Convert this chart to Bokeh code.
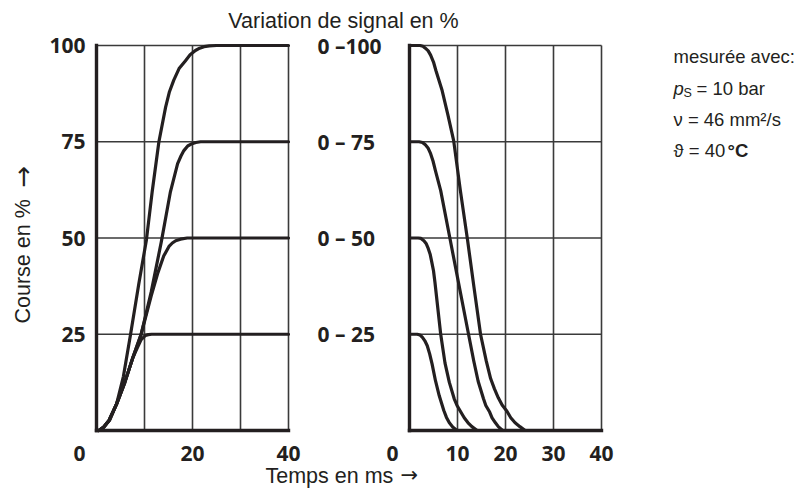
import math
from bokeh.plotting import figure
from bokeh.models import Range1d, Grid
from bokeh.core.properties import value
from bokeh.embed import file_html
from bokeh.resources import INLINE

# ---------------- data ----------------
Y_TICKS = [25, 50, 75, 100]
LEFT_X_TICKS = [0, 20, 40]
RIGHT_X_TICKS = [0, 10, 20, 30, 40]
GRID_T = [10, 20, 30, 40]
SIGNAL_LEVELS = [100, 75, 50, 25]
SIGNAL_LABELS = ["0 \u2013100", "0 \u2013 75", "0 \u2013 50", "0 \u2013 25"]

# left panel: step response upwards (time ms, stroke %)
UP100_T = [0.5, 1.5, 2.8, 4.2, 5.6, 7.1, 8.8, 10.4, 11.6, 13.0, 14.4, 15.2, 16.1, 17.2, 18.5,
           19.5, 20.6, 21.5, 22.4, 23.5, 25.0, 40.0]
UP100_V = [0, 0.8, 2.8, 7.0, 14.0, 25.0, 38.0, 49.5, 62.0, 75.0, 84.0, 88.0, 91.0, 94.0, 96.0,
           97.6, 98.7, 99.3, 99.7, 99.9, 100, 100]
UP75_T = [0.5, 1.5, 2.6, 4.2, 5.9, 7.6, 9.3, 11.4, 13.5, 15.4, 16.9, 17.6, 18.2, 19.0, 19.9,
          20.7, 21.7, 40.0]
UP75_V = [0, 0.9, 2.6, 6.9, 12.5, 19.0, 25.0, 36.0, 49.0, 62.0, 69.3, 71.3, 72.7, 73.9, 74.5,
          74.8, 75, 75]
UP50_T = [0.5, 1.5, 2.6, 4.2, 5.9, 7.6, 9.3, 11.4, 12.8, 14.0, 15.1, 15.8, 16.5, 17.5, 18.9, 40.0]
UP50_V = [0, 0.9, 2.6, 6.9, 12.5, 19.0, 25.0, 35.0, 41.0, 45.3, 47.8, 48.7, 49.3, 49.7, 50, 50]
UP25_T = [0.5, 1.5, 2.6, 4.2, 5.9, 7.6, 8.5, 9.3, 10.2, 10.8, 11.5, 40.0]
UP25_V = [0, 0.9, 2.6, 6.9, 12.5, 19.0, 21.5, 23.6, 24.7, 24.9, 25, 25]

# right panel: step response downwards
DN100_T = [0, 2.2, 2.8, 3.3, 3.9, 4.4, 5.0, 5.5, 6.8, 8.0, 9.2, 10.6, 12.1, 13.4, 14.8, 16.0,
           16.9, 17.7, 18.5, 19.3, 20.3, 21.1, 22.0, 23.0, 24.1, 40]
DN100_V = [100, 100, 99.8, 99.3, 98.6, 97.5, 95.7, 93.5, 88.3, 82.0, 75.3, 62.3, 49.4, 37.5,
           25.0, 18.0, 13.5, 10.8, 8.5, 6.6, 5.0, 3.3, 2.0, 1.0, 0, 0]
DN75_T = [0, 2.0, 2.7, 3.3, 3.9, 4.4, 4.9, 5.4, 6.5, 8.5, 10.8, 12.3, 13.4, 14.3, 15.4, 15.9,
          16.7, 17.2, 17.9, 18.5, 19.4, 40]
DN75_V = [75, 75, 74.8, 74.2, 73.3, 71.9, 70.0, 67.5, 62.3, 49.4, 34.6, 25.0, 18.0, 12.8, 8.3,
          6.5, 4.8, 3.3, 2.0, 1.0, 0, 0]
DN50_T = [0, 1.8, 2.4, 3.0, 3.5, 3.9, 4.3, 4.6, 5.0, 5.3, 6.5, 7.4, 8.3, 9.3, 9.9, 10.6, 11.4,
          12.2, 13.0, 14.1, 40]
DN50_V = [50, 50, 49.9, 49.3, 48.5, 47.3, 45.8, 44.0, 41.5, 38.5, 25.0, 17.5, 12.5, 8.3, 6.5,
          5.0, 3.3, 2.0, 1.0, 0, 0]
DN25_T = [0, 1.6, 2.2, 2.7, 3.2, 3.7, 4.2, 4.7, 5.4, 6.2, 7.15, 7.7, 8.3, 9.0, 9.9, 40]
DN25_V = [25, 25, 24.8, 24.2, 23.3, 22.0, 19.9, 17.3, 13.0, 9.0, 5.2, 3.4, 2.0, 0.9, 0, 0]

T_MIN, T_MAX = 0, 40
V_MIN, V_MAX = 0, 100

# ---------------- geometry (pixels of the picture) ----------------
W, H = 798, 488
L_X0 = 96             # x of t=0, left panel
R_X0 = 409            # x of t=0, right panel
PXMS = 4.8            # px per ms
Y0 = 430              # y of 0 %
PXV = 3.85            # px per %
BFIX = 6              # baseline correction of the svg text

def tx(px):
    return (px - L_X0) / PXMS

def ty(py):
    return (Y0 - py) / PXV

INK = "#231f20"
GRIDC = "#3a3a3a"
SANS = value("Liberation Sans")
BOLD = value("Open Sans")
ARROWF = value("DejaVu Sans")

p = figure(width=W, height=H, output_backend="svg", toolbar_location=None,
           x_axis_location=None, y_axis_location=None, min_border=0,
           x_range=Range1d(-L_X0 / PXMS, (W - L_X0) / PXMS),
           y_range=Range1d((Y0 - H) / PXV, Y0 / PXV),
           outline_line_color=None, background_fill_color="white",
           border_fill_color="white")
p.extra_x_ranges = {"right": Range1d(-R_X0 / PXMS, (W - R_X0) / PXMS)}
for r in list(p.center):
    if isinstance(r, Grid):
        r.visible = False

for rng in ("default", "right"):
    p.segment(x0=GRID_T, y0=[V_MIN] * len(GRID_T), x1=GRID_T, y1=[V_MAX] * len(GRID_T),
              line_color=GRIDC, line_width=1.6, x_range_name=rng)
    p.segment(x0=[T_MIN] * len(Y_TICKS), y0=Y_TICKS, x1=[T_MAX] * len(Y_TICKS), y1=Y_TICKS,
              line_color=GRIDC, line_width=1.6, x_range_name=rng)

curves = {
    "default": [(UP100_T, UP100_V), (UP75_T, UP75_V), (UP50_T, UP50_V), (UP25_T, UP25_V)],
    "right": [(DN100_T, DN100_V), (DN75_T, DN75_V), (DN50_T, DN50_V), (DN25_T, DN25_V)],
}
for rng, lst in curves.items():
    for t, v in lst:
        p.line(t, v, line_color=INK, line_width=3.2, line_join="round", line_cap="round",
               x_range_name=rng)
    p.line([T_MIN, T_MIN], [V_MIN, V_MAX], line_color=INK, line_width=3.4,
           line_cap="square", x_range_name=rng)
    p.line([T_MIN, T_MAX], [V_MIN, V_MIN], line_color=INK, line_width=3.4,
           line_cap="square", x_range_name=rng)

def xticks(ticks, rng):
    p.text(x=ticks, y=[V_MIN] * len(ticks), text=[str(t) for t in ticks],
           x_offset=[-17 if t == 0 else 0 for t in ticks], y_offset=23,
           text_align="center", text_baseline="middle", text_font=BOLD,
           text_font_style="bold", text_font_size="21px", text_color=INK,
           x_range_name=rng)

xticks(LEFT_X_TICKS, "default")
xticks(RIGHT_X_TICKS, "right")

p.text(x=[T_MIN] * len(Y_TICKS), y=Y_TICKS, text=[str(v) for v in Y_TICKS],
       x_offset=-11, text_align="right", text_baseline="middle", text_font=BOLD,
       text_font_style="bold", text_font_size="21px", text_color=INK)

p.text(x=[T_MIN] * len(SIGNAL_LEVELS), y=SIGNAL_LEVELS, text=SIGNAL_LABELS,
       x_offset=-92, text_align="left", text_baseline="middle", text_font=BOLD,
       text_font_style="bold", text_font_size="21px", text_color=INK,
       x_range_name="right")

def txt(px, py, s, size="21.5px", align="left", style="normal", font=SANS):
    p.text(x=[tx(px)], y=[ty(py - BFIX)], text=[s], text_align=align,
           text_baseline="alphabetic", text_font=font, text_font_style=style,
           text_font_size=size, text_color=INK)

def vtxt(px, py, s, size="21.5px", font=SANS):
    p.text(x=[tx(px - BFIX)], y=[ty(py)], text=[s], text_align="left",
           text_baseline="alphabetic", text_font=font, text_font_size=size,
           text_color=INK, angle=math.pi / 2)

txt(343, 26, "Variation de signal en %", align="center")
txt(265, 481, "Temps en ms")
txt(400, 480, "\u2192", size="21px", font=ARROWF)
vtxt(28, 323, "Course en %")
vtxt(28, 187, "\u2192", size="26px", font=ARROWF)

# measurement conditions
NS = "18.5px"
txt(673, 61.5, "mesur\u00e9e avec:", size=NS)
txt(673, 93.5, "p", size=NS, style="italic")
txt(683, 98.5, "S", size="12.5px")
txt(696, 93.5, "= 10 bar", size=NS)
txt(673, 125, "\u03bd = 46 mm\u00b2/s", size=NS)
txt(673, 156, "\u03d1 = 40", size=NS)
txt(727, 156, "\u00b0C", size=NS, style="bold")

open("out.html", "w").write(file_html(p, INLINE))
